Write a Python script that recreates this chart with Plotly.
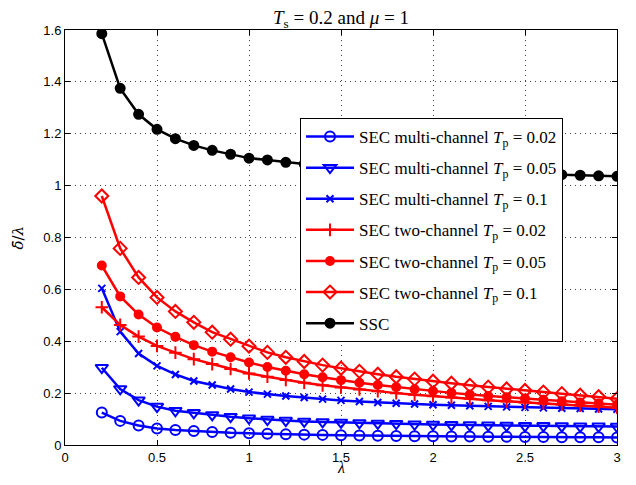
import plotly.graph_objects as go

lam = [0.2, 0.3, 0.4, 0.5, 0.6, 0.7, 0.8, 0.9, 1.0, 1.1, 1.2, 1.3, 1.4, 1.5,
       1.6, 1.7, 1.8, 1.9, 2.0, 2.1, 2.2, 2.3, 2.4, 2.5, 2.6, 2.7, 2.8, 2.9, 3.0]

sec_multi_002 = [0.125, 0.093, 0.075, 0.064, 0.058, 0.054, 0.050, 0.047, 0.045, 0.043,
                 0.041, 0.040, 0.039, 0.038, 0.037, 0.036, 0.035, 0.034, 0.034, 0.033,
                 0.033, 0.032, 0.032, 0.031, 0.031, 0.030, 0.030, 0.030, 0.029]
sec_multi_005 = [0.298, 0.216, 0.173, 0.148, 0.132, 0.124, 0.116, 0.109, 0.103, 0.098,
                 0.094, 0.091, 0.089, 0.087, 0.085, 0.083, 0.082, 0.080, 0.079, 0.078,
                 0.077, 0.076, 0.075, 0.074, 0.074, 0.073, 0.072, 0.072, 0.071]
sec_multi_01 = [0.604, 0.437, 0.353, 0.305, 0.272, 0.247, 0.231, 0.216, 0.204, 0.196,
                0.189, 0.183, 0.177, 0.172, 0.168, 0.164, 0.161, 0.158, 0.155, 0.153,
                0.151, 0.149, 0.147, 0.145, 0.143, 0.142, 0.141, 0.139, 0.138]
sec_two_002 = [0.531, 0.463, 0.418, 0.382, 0.356, 0.331, 0.312, 0.293, 0.276, 0.263,
               0.251, 0.240, 0.230, 0.222, 0.214, 0.207, 0.200, 0.194, 0.188, 0.183,
               0.178, 0.173, 0.168, 0.164, 0.160, 0.156, 0.152, 0.148, 0.144]
sec_two_005 = [0.692, 0.573, 0.503, 0.453, 0.417, 0.385, 0.360, 0.338, 0.318, 0.301,
               0.286, 0.273, 0.261, 0.250, 0.240, 0.231, 0.223, 0.215, 0.208, 0.201,
               0.195, 0.189, 0.184, 0.179, 0.174, 0.169, 0.164, 0.160, 0.155]
sec_two_01 = [0.960, 0.758, 0.646, 0.569, 0.515, 0.473, 0.435, 0.408, 0.381, 0.357,
              0.338, 0.322, 0.308, 0.296, 0.284, 0.273, 0.263, 0.254, 0.246, 0.238,
              0.230, 0.223, 0.216, 0.210, 0.204, 0.198, 0.192, 0.186, 0.178]
ssc = [1.586, 1.375, 1.275, 1.217, 1.181, 1.155, 1.136, 1.121, 1.106, 1.099,
       1.090, 1.083, 1.077, 1.072, 1.068, 1.065, 1.062, 1.059, 1.056, 1.054,
       1.052, 1.050, 1.048, 1.046, 1.044, 1.042, 1.040, 1.038, 1.036]

x_ticks = [0, 0.5, 1, 1.5, 2, 2.5, 3]
x_tick_text = ["0", "0.5", "1", "1.5", "2", "2.5", "3"]
y_ticks = [0, 0.2, 0.4, 0.6, 0.8, 1.0, 1.2, 1.4, 1.6]
y_tick_text = ["0", "0.2", "0.4", "0.6", "0.8", "1", "1.2", "1.4", "1.6"]

names = [
    "SEC multi-channel <i>T</i><sub>p</sub> = 0.02",
    "SEC multi-channel <i>T</i><sub>p</sub> = 0.05",
    "SEC multi-channel <i>T</i><sub>p</sub> = 0.1",
    "SEC two-channel <i>T</i><sub>p</sub> = 0.02",
    "SEC two-channel <i>T</i><sub>p</sub> = 0.05",
    "SEC two-channel <i>T</i><sub>p</sub> = 0.1",
    "SSC",
]
series = [sec_multi_002, sec_multi_005, sec_multi_01, sec_two_002, sec_two_005, sec_two_01, ssc]
colors = ["#0000ff", "#0000ff", "#0000ff", "#ff0000", "#ff0000", "#ff0000", "#000000"]
symbols = ["circle-open", "triangle-down-open", "x-thin-open", "cross-thin-open",
           "circle", "diamond-open", "circle"]
sizes = [10, 11, 7, 9, 8, 10, 9]

# page body has an 8px margin; figure coordinates are offset accordingly
W, H = 620, 469
L, R, T, B = 57, W - 609, 22, H - 437

fig = go.Figure()
for i, (nm, ys, c, s, sz) in enumerate(zip(names, series, colors, symbols, sizes)):
    fig.add_trace(go.Scatter(
        x=lam, y=ys, mode="lines+markers", name=nm, legendgroup=f"g{i}",
        line=dict(color=c, width=2.5),
        marker=dict(symbol=s, size=sz, color=c, line=dict(color=c, width=2)),
    ))

axis_common = dict(
    showline=True, linecolor="black", linewidth=1, mirror="ticks",
    ticks="inside", ticklen=5, tickcolor="black",
    showgrid=True, gridcolor="#444444", gridwidth=1, griddash="1px,4px",
    zeroline=False, automargin=False,
    tickfont=dict(family="Liberation Sans, Arial, sans-serif", size=13, color="black"),
)

plot_h = H - T - B
plot_w = W - L - R

fig.update_layout(
    width=W, height=H,
    margin=dict(l=L, r=R, t=T, b=B, autoexpand=False),
    paper_bgcolor="white", plot_bgcolor="white",
    title=dict(
        text="<i>T</i><sub>s</sub> = 0.2 and <i>μ</i> = 1",
        x=(L + plot_w / 2) / W, xanchor="center", y=1 - 3 / H, yanchor="top",
        pad=dict(t=0, b=0),
        font=dict(family="Liberation Serif, Times New Roman, serif", size=19, color="black"),
    ),
    xaxis=dict(range=[0, 3], tickvals=x_ticks, ticktext=x_tick_text, **axis_common),
    yaxis=dict(range=[0, 1.6], tickvals=y_ticks, ticktext=y_tick_text, **axis_common),
    legend=dict(
        x=(292 - L) / plot_w, y=(437 - 110) / plot_h, xanchor="left", yanchor="top",
        bgcolor="white", bordercolor="black", borderwidth=1,
        font=dict(family="Liberation Serif, Times New Roman, serif", size=17, color="black"),
        tracegroupgap=6, itemwidth=48,
    ),
    annotations=[
        dict(text="<i>λ</i>", xref="paper", yref="paper", x=0.5, y=-(459 - 437) / plot_h,
             xanchor="center", yanchor="middle", showarrow=False,
             font=dict(family="Liberation Serif, serif", size=16, color="black")),
        dict(text="<i>δ̄</i>/<i>λ</i>", xref="paper", yref="paper", x=(9 - L) / plot_w, y=0.5,
             xanchor="center", yanchor="middle", showarrow=False, textangle=-90,
             font=dict(family="DejaVu Serif, Liberation Serif, serif", size=15, color="black")),
    ],
)

fig.write_html("out.html")
